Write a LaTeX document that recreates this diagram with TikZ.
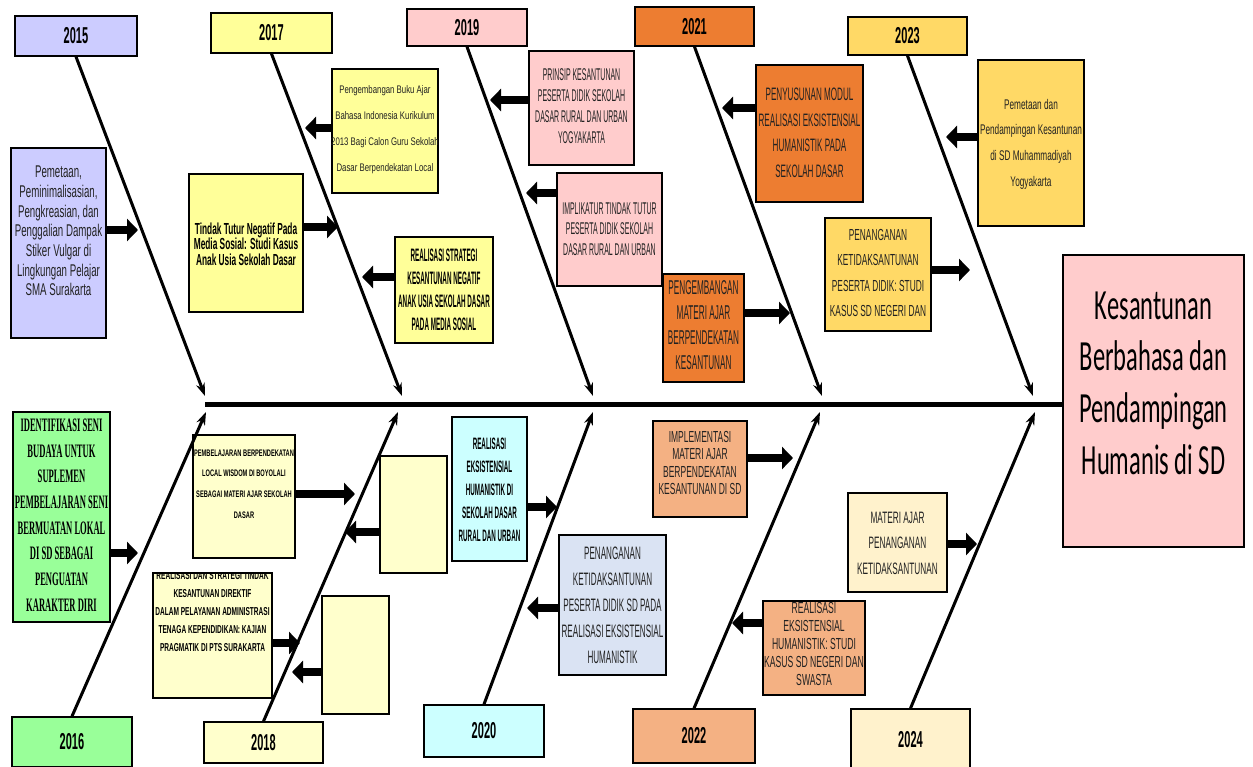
\documentclass[tikz,border=0pt]{standalone}
\usepackage{fontspec}
\setmainfont{Liberation Sans}
\newfontfamily\headfont{Carlito}
\newfontfamily\serfont{Liberation Serif}
\usetikzlibrary{arrows.meta}
\newcommand\nf[3]{\fontsize{#1}{#2}\selectfont\addfontfeature{FakeStretch=#3}}
\definecolor{cLav}{HTML}{CCCCFF}
\definecolor{cYel}{HTML}{FFFF99}
\definecolor{cPnk}{HTML}{FFCCCC}
\definecolor{cOrg}{HTML}{ED7D31}
\definecolor{cGold}{HTML}{FFD966}
\definecolor{cGrn}{HTML}{99FF99}
\definecolor{cCream}{HTML}{FFFFCC}
\definecolor{cCyan}{HTML}{CCFFFF}
\definecolor{cPeach}{HTML}{F4B183}
\definecolor{cLtYel}{HTML}{FFF2CC}
\definecolor{cBlg}{HTML}{DAE3F3}
\definecolor{cTxt}{HTML}{222222}
\tikzset{
  box/.style={draw=black, line width=1.5pt, inner sep=0pt, anchor=center},
  txt/.style={align=center, inner sep=0pt, text=cTxt},
  yeartxt/.style={font={\bfseries\nf{23}{24}{0.48}}},
  bone/.style={line width=3pt, -{Stealth[length=13pt,width=9pt]}},
  carrow/.style={line width=8pt, -{Triangle[length=11pt,width=22pt]}},
  spine/.style={line width=5pt}
}
\newcommand\bx[6]{\node[box, fill=#2, minimum width=#5pt, minimum height=#6pt] (#1) at (#3,#4) {};}
\begin{document}
\begin{tikzpicture}[x=1pt,y=-1pt]
\useasboundingbox[fill=white] (0,0) rectangle (1253,767);

% year boxes
\node[box, yeartxt, fill=cLav,   minimum width=122pt, minimum height=40pt] (y2015) at (76,36) {2015};
\node[box, yeartxt, fill=cYel,   minimum width=121pt, minimum height=40pt] (y2017) at (271.5,33) {2017};
\node[box, yeartxt, fill=cPnk,   minimum width=120pt, minimum height=37pt] (y2019) at (467,27.5) {2019};
\node[box, yeartxt, fill=cOrg,   minimum width=119pt, minimum height=39pt] (y2021) at (694.5,26.5) {2021};
\node[box, yeartxt, fill=cGold,  minimum width=119pt, minimum height=38pt] (y2023) at (907.5,36) {2023};
\node[box, yeartxt, fill=cGrn,   minimum width=120pt, minimum height=50pt] (y2016) at (72,742) {2016};
\node[box, yeartxt, fill=cCream, minimum width=119pt, minimum height=41pt] (y2018) at (263.5,742.5) {2018};
\node[box, yeartxt, fill=cCyan,  minimum width=120pt, minimum height=52pt] (y2020) at (484,731) {2020};
\node[box, yeartxt, fill=cPeach, minimum width=122pt, minimum height=54pt] (y2022) at (694,736) {2022};
\node[box, yeartxt, fill=cLtYel, minimum width=119pt, minimum height=62pt] (y2024) at (910.5,740) {2024};

% head
\bx{head}{cPnk}{1153.5}{401}{181}{292}
\node[txt, text=black, font={\headfont\nf{43}{51.7}{0.57}}] (thead) at (1153.5,383) {Kesantunan\\Berbahasa dan\\Pendampingan\\Humanis di SD};

% cause boxes
\bx{cA}{cLav}{58.5}{243}{95}{190}
\bx{cB}{cYel}{246}{243}{114}{138}
\bx{cC}{cYel}{385}{131}{106}{124}
\bx{cD}{cYel}{444}{290}{98}{106}
\bx{cE}{cPnk}{581.5}{108}{105}{114}
\bx{cF}{cPnk}{609.5}{229.5}{105}{113}
\bx{cG}{cOrg}{703.5}{328}{81}{108}
\bx{cH}{cOrg}{809.5}{133.5}{107}{137}
\bx{cI}{cGold}{878}{274.5}{106}{113}
\bx{cJ}{cGold}{1031}{143}{106}{166}
\bx{cK}{cGrn}{61.5}{517}{97}{210}
\bx{cL}{cCream}{244}{496.5}{102}{123}
\bx{cM}{cCream}{413.5}{514.5}{67}{117}
\bx{cN}{cCream}{212.5}{635.5}{119}{125}
\bx{cO}{cCream}{355.5}{655}{67}{118}
\bx{cP}{cCyan}{489.5}{489}{75}{144}
\bx{cQ}{cBlg}{612.5}{605}{107}{140}
\bx{cR}{cPeach}{700}{469}{94}{96}
\bx{cS}{cPeach}{814}{648}{102}{94}
\bx{cT}{cLtYel}{897.5}{542.5}{99}{99}

% texts
\node[txt, font={\nf{17}{19.7}{0.57}}] (tA) at (58.5,231) {Pemetaan,\\Peminimalisasian,\\Pengkreasian, dan\\Penggalian Dampak\\Stiker Vulgar di\\Lingkungan Pelajar\\SMA Surakarta};
\node[txt, text=black, font={\bfseries\nf{16}{15.5}{0.52}}] (tB) at (246,244) {Tindak Tutur Negatif Pada\\Media Sosial: Studi Kasus\\Anak Usia Sekolah Dasar};
\node[txt, font={\nf{11}{26}{0.71}}] (tC) at (385,130) {Pengembangan Buku Ajar\\Bahasa Indonesia Kurikulum\\2013 Bagi Calon Guru Sekolah\\Dasar Berpendekatan Local};
\node[txt, text=black, font={\bfseries\nf{18}{23}{0.35}}] (tD) at (444,290) {REALISASI STRATEGI\\KESANTUNAN NEGATIF\\ANAK USIA SEKOLAH DASAR\\PADA MEDIA SOSIAL};
\node[txt, font={\nf{17}{21}{0.41}}] (tE) at (581.5,106) {PRINSIP KESANTUNAN\\PESERTA DIDIK SEKOLAH\\DASAR RURAL DAN URBAN\\YOGYAKARTA};
\node[txt, font={\nf{17}{20.5}{0.41}}] (tF) at (609.5,229) {IMPLIKATUR TINDAK TUTUR\\PESERTA DIDIK SEKOLAH\\DASAR RURAL DAN URBAN};
\node[txt, font={\nf{20}{25}{0.41}}] (tG) at (703.5,325) {PENGEMBANGAN\\MATERI AJAR\\BERPENDEKATAN\\KESANTUNAN};
\node[txt, font={\nf{18}{25.6}{0.45}}] (tH) at (809.5,133) {PENYUSUNAN MODUL\\REALISASI EKSISTENSIAL\\HUMANISTIK PADA\\SEKOLAH DASAR};
\node[txt, font={\nf{16}{25.5}{0.52}}] (tI) at (878,273) {PENANGANAN\\KETIDAKSANTUNAN\\PESERTA DIDIK: STUDI\\KASUS SD NEGERI DAN};
\node[txt, font={\nf{14}{25.6}{0.59}}] (tJ) at (1031,144) {Pemetaan dan\\Pendampingan Kesantunan\\di SD Muhammadiyah\\Yogyakarta};
\node[txt, text=black, font={\serfont\bfseries\nf{19}{25.7}{0.45}}] (tK) at (61.5,515) {IDENTIFIKASI SENI\\BUDAYA UNTUK\\SUPLEMEN\\PEMBELAJARAN SENI\\BERMUATAN LOKAL\\DI SD SEBAGAI\\PENGUATAN\\KARAKTER DIRI};
\node[txt, text=black, font={\bfseries\nf{9.5}{20.7}{0.6}}] (tL) at (244,484) {PEMBELAJARAN BERPENDEKATAN\\LOCAL WISDOM DI BOYOLALI\\SEBAGAI MATERI AJAR SEKOLAH\\DASAR};
\begin{scope}
\clip (cN.north west) rectangle (cN.south east);
\node[txt, text=black, font={\bfseries\nf{11.5}{18}{0.57}}] (tN) at (212.5,612) {REALISASI DAN STRATEGI TINDAK\\KESANTUNAN DIREKTIF\\DALAM PELAYANAN ADMINISTRASI\\TENAGA KEPENDIDIKAN: KAJIAN\\PRAGMATIK DI PTS SURAKARTA};
\end{scope}
\node[txt, text=black, font={\bfseries\nf{16.5}{23}{0.38}}] (tP) at (489.5,489.5) {REALISASI\\EKSISTENSIAL\\HUMANISTIK DI\\SEKOLAH DASAR\\RURAL DAN URBAN};
\node[txt, font={\nf{18}{26}{0.45}}] (tQ) at (612.5,605) {PENANGANAN\\KETIDAKSANTUNAN\\PESERTA DIDIK SD PADA\\REALISASI EKSISTENSIAL\\HUMANISTIK};
\node[txt, font={\nf{16}{17.5}{0.53}}] (tR) at (700,463) {IMPLEMENTASI\\MATERI AJAR\\BERPENDEKATAN\\KESANTUNAN DI SD};
\begin{scope}
\clip (cS.north west) rectangle (cS.south east);
\node[txt, font={\nf{16}{18}{0.54}}] (tS) at (814,644) {REALISASI\\EKSISTENSIAL\\HUMANISTIK: STUDI\\KASUS SD NEGERI DAN\\SWASTA};
\end{scope}
\node[txt, font={\nf{16.5}{25.5}{0.5}}] (tT) at (897.5,543) {MATERI AJAR\\PENANGANAN\\KETIDAKSANTUNAN};

% spine
\coordinate (sp) at (205,404);
\draw[spine] (sp) -- (head.west |- sp);

% bone tips
\coordinate (b2015) at (205,396);
\coordinate (b2017) at (402,396);
\coordinate (b2019) at (593,396);
\coordinate (b2021) at (822,396);
\coordinate (b2023) at (1033,396);
\coordinate (b2016) at (206,412);
\coordinate (b2018) at (398,412);
\coordinate (b2020) at (593,412);
\coordinate (b2022) at (820,412);
\coordinate (b2024) at (1035,412);
\foreach \y in {2015,2017,2019,2021,2023}{\draw[bone] (y\y.south) -- (b\y);}
\foreach \y in {2016,2018,2020,2022,2024}{\draw[bone] (y\y.north) -- (b\y);}

% cause arrow tips
\coordinate (aA) at (138,230);
\coordinate (aB) at (338,227);
\coordinate (aC) at (305,128);
\coordinate (aD) at (362,277);
\coordinate (aE) at (490,100);
\coordinate (aF) at (526,193);
\coordinate (aG) at (790,313);
\coordinate (aH) at (722,108);
\coordinate (aI) at (970,270);
\coordinate (aJ) at (946,137);
\coordinate (aK) at (138,553);
\coordinate (aL) at (355,494);
\coordinate (aM) at (345,532);
\coordinate (aN) at (300,643);
\coordinate (aO) at (292,672);
\coordinate (aP) at (557,507);
\coordinate (aQ) at (527,608);
\coordinate (aR) at (793,458);
\coordinate (aS) at (732,623);
\coordinate (aT) at (977,544);
\foreach \c in {A,B,G,I,K,L,N,P,R,T}{\draw[carrow] (c\c.east |- a\c) -- (a\c);}
\foreach \c in {C,D,E,F,H,J,M,O,Q,S}{\draw[carrow] (c\c.west |- a\c) -- (a\c);}
\end{tikzpicture}
\end{document}
